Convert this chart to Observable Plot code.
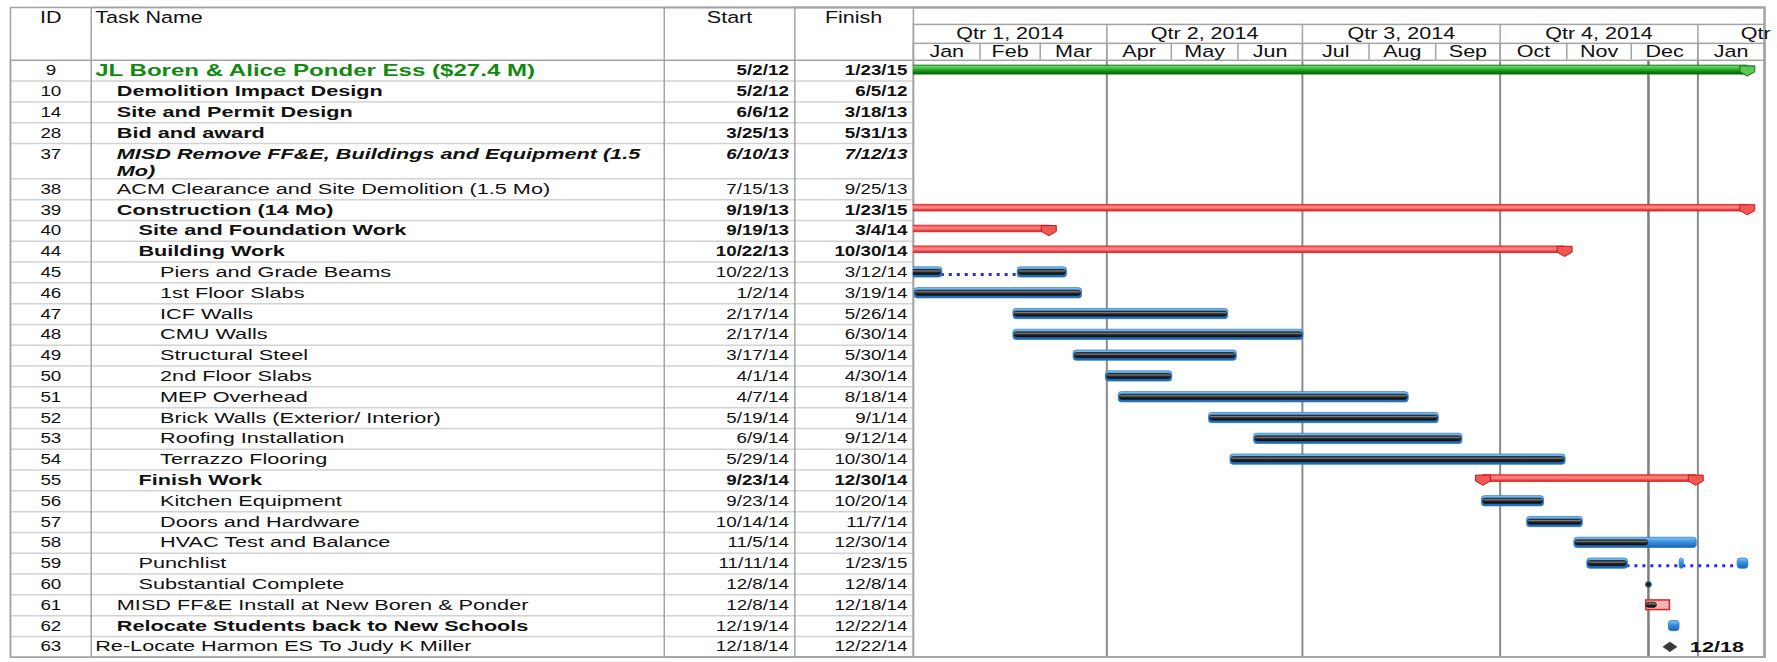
<!DOCTYPE html>
<html><head><meta charset="utf-8">
<script src="https://cdn.jsdelivr.net/npm/d3@7"></script>
<script src="https://cdn.jsdelivr.net/npm/@observablehq/plot@0.6"></script>
<style>
body{margin:0;background:#fff;}
#wrap{width:1771px;height:662px;overflow:hidden;}
</style></head><body><div id="wrap"></div>
<script>
// ---------- DATA ----------
const ids = [9,10,14,28,37,38,39,40,44,45,46,47,48,49,50,51,52,53,54,55,56,57,58,59,60,61,62,63];
const names = ["JL Boren & Alice Ponder Ess ($27.4 M)","Demolition Impact Design","Site and Permit Design","Bid and award","MISD Remove FF&E, Buildings and Equipment (1.5\nMo)","ACM Clearance and Site Demolition (1.5 Mo)","Construction (14 Mo)","Site and Foundation Work","Building Work","Piers and Grade Beams","1st Floor Slabs","ICF Walls","CMU Walls","Structural Steel","2nd Floor Slabs","MEP Overhead","Brick Walls (Exterior/ Interior)","Roofing Installation","Terrazzo Flooring","Finish Work","Kitchen Equipment","Doors and Hardware","HVAC Test and Balance","Punchlist","Substantial Complete","MISD FF&E Install at New Boren & Ponder","Relocate Students back to New Schools","Re-Locate Harmon ES To Judy K Miller"];
const starts = ["5/2/12","5/2/12","6/6/12","3/25/13","6/10/13","7/15/13","9/19/13","9/19/13","10/22/13","10/22/13","1/2/14","2/17/14","2/17/14","3/17/14","4/1/14","4/7/14","5/19/14","6/9/14","5/29/14","9/23/14","9/23/14","10/14/14","11/5/14","11/11/14","12/8/14","12/8/14","12/19/14","12/18/14"];
const finishes = ["1/23/15","6/5/12","3/18/13","5/31/13","7/12/13","9/25/13","1/23/15","3/4/14","10/30/14","3/12/14","3/19/14","5/26/14","6/30/14","5/30/14","4/30/14","8/18/14","9/1/14","9/12/14","10/30/14","12/30/14","10/20/14","11/7/14","12/30/14","1/23/15","12/8/14","12/18/14","12/22/14","12/22/14"];
const levels = [0,1,1,1,1,1,1,2,2,3,3,3,3,3,3,3,3,3,3,2,3,3,3,2,2,1,1,0];
const kinds = ["project","summary","summary","summary","manual","task","summary","summary","summary","task","task","task","task","task","task","task","task","task","task","summary","task","task","task","task","point","critical","task","milestone"];
const nameStyles = ["project","bold","bold","bold","boldItalic","regular","bold","bold","bold","regular","regular","regular","regular","regular","regular","regular","regular","regular","regular","bold","regular","regular","regular","regular","regular","regular","bold","regular"];
// split tasks (segments)
const splits = {45: [["10/22/13","1/13/14"],["2/19/14","3/12/14"]], 59: [["11/11/14","11/28/14"],["12/24/14","12/24/14"],["1/20/15","1/23/15"]]};
// progress through (null = no progress); tasks not listed are complete
const progressTo = {58: "12/8/14", 59: "11/28/14", 61: "12/12/14", 62: null};
const statusDate = "12/8/14";
const quarterLabels = ["Qtr 1, 2014","Qtr 2, 2014","Qtr 3, 2014","Qtr 4, 2014","Qtr 1, 2015"];
const quarterStarts = ["1/1/14","4/1/14","7/1/14","10/1/14","1/1/15"];
const monthLabels = ["Jan","Feb","Mar","Apr","May","Jun","Jul","Aug","Sep","Oct","Nov","Dec","Jan"];
const headers = ["ID","Task Name","Start","Finish"];

// ---------- LAYOUT ----------
const W = 1777, H = 662;
const M = {top: 60, bottom: 3, left: 916, right: 7};
const frameH = H - M.top - M.bottom;
const tableLeft = 10, colX = [91, 666, 797];
const idCenter = 50.5, nameX0 = 95, indent = 21.7, startRight = 791, finishRight = 910;
const hdrX = [50.5, 95, 731.5, 856];
const extraLine = 0.7, lineStep = 0.82;
const lineCol = "#a3a3a3", rowLineCol = "#d2d2d2";

const parse = d3.utcParse("%m/%d/%y");
const eod = d => d3.utcDay.offset(d, 1);
const fmtMD = d3.utcFormat("%-m/%-d");

const rows = ids.map((id, i) => ({id, name: names[i], start: parse(starts[i]), finish: parse(finishes[i]),
  startText: starts[i], finishText: finishes[i], level: levels[i], kind: kinds[i], style: nameStyles[i]}));
let u = 0;
for (const r of rows) {
  r.lines = r.name.split("\n");
  r.u0 = u; u += 1 + extraLine * (r.lines.length - 1); r.u1 = u; r.uc = r.u0 + 0.5;
}
const totalUnits = u;
const rowEdges = rows.slice(0, -1).map(r => r.u1);

const nameLines = rows.flatMap(r => r.lines.map((t, k) => ({text: t, y: r.uc + k * lineStep, level: r.level, style: r.style})));

const segs = [], prog = [], gaps = [];
for (const r of rows) {
  if (r.kind !== "task" && r.kind !== "critical") continue;
  const parts = (splits[r.id] || [[r.startText, r.finishText]]).map(([a, b]) => ({s: parse(a), e: eod(parse(b))}));
  parts.forEach((p, k) => {
    segs.push({...p, uc: r.uc, u0: r.u0, kind: r.kind});
    let pe = p.e;
    if (r.id in progressTo) pe = progressTo[r.id] ? eod(parse(progressTo[r.id])) : null;
    if (pe && pe > p.s) prog.push({s: p.s, e: pe < p.e ? pe : p.e, u0: r.u0});
    if (k > 0) gaps.push({s: parts[k - 1].e, e: p.s, uc: r.uc});
  });
}
const sums = rows.filter(r => r.kind === "summary").map(r => ({s: r.start, e: eod(r.finish), u0: r.u0}));
const caps = rows.filter(r => r.kind === "summary").flatMap(r => [{x: r.start, uc: r.uc}, {x: eod(r.finish), uc: r.uc}]);
const proj = rows.filter(r => r.kind === "project").map(r => ({s: r.start, e: eod(r.finish), u0: r.u0, uc: r.uc}));
const points = rows.filter(r => r.kind === "point").map(r => ({x: eod(r.start), uc: r.uc}));
const miles = rows.filter(r => r.kind === "milestone").map(r => ({x: eod(r.start), uc: r.uc, label: fmtMD(r.start)}));

const qStarts = quarterStarts.map(parse);
const quarters = quarterLabels.map((label, i) => ({label, s: qStarts[i], e: d3.utcMonth.offset(qStarts[i], 3)}));
const mStarts = d3.utcMonths(parse("1/1/14"), parse("2/1/15"));
const months = monthLabels.map((label, i) => ({label, s: mStarts[i], e: d3.utcMonth.offset(mStarts[i], 1)}));
const mid = d => new Date((+d.s + +d.e) / 2);
const status = eod(parse(statusDate));

// ---------- DEFS ----------
const defs = d3.create("svg:defs");
function grad(id, stops) {
  const g = defs.append("linearGradient").attr("id", id).attr("x1", 0).attr("y1", 0).attr("x2", 0).attr("y2", 1);
  stops.forEach(([o, c]) => g.append("stop").attr("offset", o).attr("stop-color", c));
}
grad("gBlue", [[0, "#8cc8f6"], [0.4, "#3d94e0"], [1, "#1a62ad"]]);
grad("gDark", [[0, "#161616"], [0.3, "#7a7a7a"], [0.55, "#2a2a2a"], [1, "#050505"]]);
grad("gRed", [[0, "#f24a4a"], [0.45, "#ff8c8c"], [1, "#d81c1c"]]);
grad("gGreen", [[0, "#86dc86"], [0.35, "#3cc23c"], [0.7, "#138c13"], [1, "#0a560a"]]);
const pat = defs.append("pattern").attr("id", "pRed").attr("width", 3).attr("height", 3).attr("patternUnits", "userSpaceOnUse");
pat.append("rect").attr("width", 3).attr("height", 3).attr("fill", "#fff");
pat.append("rect").attr("width", 1.5).attr("height", 1.5).attr("fill", "#f06a6a");
pat.append("rect").attr("x", 1.5).attr("y", 1.5).attr("width", 1.5).attr("height", 1.5).attr("fill", "#f06a6a");

const shield = {draw(ctx, size) { const s = Math.sqrt(size / Math.PI) / 7;
  ctx.moveTo(-7 * s, -5 * s); ctx.lineTo(7 * s, -5 * s); ctx.lineTo(7 * s, 0.5 * s); ctx.lineTo(0, 4.5 * s); ctx.lineTo(-7 * s, 0.5 * s); ctx.closePath(); }};
const flatDiamond = {draw(ctx, size) { const s = Math.sqrt(size / Math.PI) / 7;
  ctx.moveTo(-7 * s, 0); ctx.lineTo(0, -5 * s); ctx.lineTo(7 * s, 0); ctx.lineTo(0, 5 * s); ctx.closePath(); }};

// ---------- TEXT MARKS (each with a horizontal stretch factor) ----------
const texts = [];
const addText = (k, mark) => texts.push({k, mark});
headers.forEach((h, i) => addText(1.35, Plot.text([h], {text: d => d, frameAnchor: "top-left", lineAnchor: "middle", dx: hdrX[i] - M.left, dy: 17 - M.top,
  textAnchor: i === 1 ? "start" : "middle", fontSize: 16, fill: "#111"})));
addText(1.3, Plot.text(rows, {y: "uc", text: "id", frameAnchor: "left", dx: idCenter - M.left, textAnchor: "middle", fill: "#111"}));
for (const L of [0, 1, 2, 3]) for (const st of ["project", "bold", "boldItalic", "regular"]) {
  const data = nameLines.filter(d => d.level === L && d.style === st);
  if (!data.length) continue;
  addText(st === "project" ? 1.42 : 1.5, Plot.text(data, {y: "y", text: "text", frameAnchor: "left", textAnchor: "start", dx: nameX0 + L * indent - M.left,
    fontWeight: st === "regular" ? "normal" : "bold", fontStyle: st === "boldItalic" ? "italic" : "normal",
    fill: st === "project" ? "#128a12" : "#111", fontSize: st === "project" ? 17 : 14.5}));
}
const boldDates = r => ["project", "summary", "manual"].includes(r.kind);
for (const b of [true, false]) {
  for (const italic of [false, true]) {
    const data = rows.filter(r => boldDates(r) === b && (r.kind === "manual") === italic);
    if (!data.length) continue;
    const common = {y: "uc", frameAnchor: "left", textAnchor: "end", fontWeight: b ? "bold" : "normal", fontStyle: italic ? "italic" : "normal", fill: "#111"};
    addText(1.3, Plot.text(data, {...common, text: "startText", dx: startRight - M.left}));
    addText(1.3, Plot.text(data, {...common, text: "finishText", dx: finishRight - M.left}));
  }
}
addText(1.35, Plot.text(quarters, {x: mid, text: "label", frameAnchor: "top", lineAnchor: "middle", dy: -26.5, fontSize: 16, fill: "#111"}));
addText(1.35, Plot.text(months, {x: mid, text: "label", frameAnchor: "top", lineAnchor: "middle", dy: -8.5, fontSize: 16, fill: "#111"}));
addText(1.45, Plot.text(miles, {x: "x", y: "uc", text: "label", dx: 20, textAnchor: "start", fontWeight: "bold", fontSize: 15, fill: "#111"}));

// ---------- PLOT ----------
const chart = Plot.plot({
  width: W, height: H,
  marginTop: M.top, marginBottom: M.bottom, marginLeft: M.left, marginRight: M.right,
  x: {type: "utc", domain: [parse("1/1/14"), parse("2/1/15")], axis: null},
  y: {domain: [0, totalUnits], reverse: true, axis: null},
  style: {fontFamily: "'Liberation Sans', Arial, sans-serif", fontSize: "14.5px", background: "#fff", color: "#111"},
  marks: [
    () => defs.node(),
    // body grid
    Plot.ruleX(qStarts.slice(1), {x: d => d, stroke: "#8a8a8a", strokeWidth: 2}),
    Plot.ruleX([status], {x: d => d, stroke: "#7d7d7d", strokeWidth: 2.5}),
    // header grid
    Plot.ruleX(mStarts.slice(1, 13), {x: d => d, insetTop: -17, insetBottom: frameH, stroke: lineCol, strokeWidth: 1.5}),
    Plot.ruleX(qStarts.slice(1), {x: d => d, insetTop: -36, insetBottom: frameH, stroke: lineCol, strokeWidth: 1.5}),
    // table row lines
    Plot.ruleY(rowEdges, {y: d => d, insetLeft: -(M.left - tableLeft), insetRight: W - M.right - M.left, stroke: rowLineCol, strokeWidth: 1.5}),
    // frames / borders
    Plot.frame({insetTop: -36, stroke: lineCol, strokeWidth: 1.5}),
    Plot.frame({insetTop: -17, stroke: lineCol, strokeWidth: 1.5}),
    Plot.frame({insetLeft: -(M.left - tableLeft), stroke: lineCol, strokeWidth: 1.5}),
    ...colX.map(c => Plot.frame({insetTop: -53, insetLeft: -(M.left - c), stroke: lineCol, strokeWidth: 1.5})),
    Plot.frame({insetTop: -53, stroke: lineCol, strokeWidth: 1.5}),
    Plot.frame({insetTop: -53, insetLeft: -(M.left - tableLeft), stroke: lineCol, strokeWidth: 1.5}),
    // project bar
    Plot.rect(proj, {x1: "s", x2: "e", y1: "u0", y2: d => d.u0 + 1, insetTop: 5.4, insetBottom: 6.6, fill: "url(#gGreen)", stroke: "#0b7a0b", strokeWidth: 1, clip: true}),
    Plot.dot(proj, {x: "e", y: "uc", r: 7.5, symbol: shield, fill: "#5cc85c", stroke: "#0b6e0b", strokeWidth: 1, dy: 0.5, clip: true}),
    // summary bars
    Plot.rect(sums, {x1: "s", x2: "e", y1: "u0", y2: d => d.u0 + 1, insetTop: 5.2, insetBottom: 9, fill: "url(#gRed)", stroke: "#e01e1e", strokeWidth: 0.8, clip: true}),
    Plot.dot(caps, {x: "x", y: "uc", r: 7.5, symbol: shield, fill: "#f05858", stroke: "#c81818", strokeWidth: 1, clip: true}),
    // split gaps
    Plot.ruleY(gaps, {x1: "s", x2: "e", y: "uc", dy: 2, stroke: "#2a2ad8", strokeWidth: 3, strokeDasharray: "3,5", clip: true}),
    // task bars
    Plot.rect(segs.filter(d => d.kind === "task"), {x1: "s", x2: "e", y1: "u0", y2: d => d.u0 + 1, insetTop: 5.3, insetBottom: 5.3, insetLeft: -1, insetRight: -1, rx: 3, fill: "url(#gBlue)", stroke: "#2a7ccc", strokeWidth: 0.8, clip: true}),
    Plot.rect(segs.filter(d => d.kind === "critical"), {x1: "s", x2: "e", y1: "u0", y2: d => d.u0 + 1, insetTop: 5.6, insetBottom: 5.6, fill: "url(#pRed)", stroke: "#ee1c1c", strokeWidth: 1.5, clip: true}),
    Plot.rect(prog, {x1: "s", x2: "e", y1: "u0", y2: d => d.u0 + 1, insetTop: 7.8, insetBottom: 7.8, rx: 2.5, fill: "url(#gDark)", stroke: "#111", strokeWidth: 0.5, clip: true}),
    Plot.dot(points, {x: "x", y: "uc", r: 3, fill: "#222", stroke: "#2a7ccc", strokeWidth: 1, clip: true}),
    Plot.dot(miles, {x: "x", y: "uc", r: 7, symbol: flatDiamond, fill: "#3a3a3a", stroke: "#222", strokeWidth: 0.5, clip: true}),
    ...texts.map(t => t.mark)
  ]
});
document.getElementById("wrap").append(chart);

// horizontal stretch of the original's wide lettering (text groups appear in mark order)
const groups = chart.querySelectorAll('g[aria-label="text"]');
groups.forEach((g, i) => {
  const k = texts[i] ? texts[i].k : 1;
  g.querySelectorAll("text").forEach(t => {
    const w = t.getComputedTextLength();
    if (w > 0) {
      t.setAttribute("textLength", (w * k).toFixed(1));
      t.setAttribute("lengthAdjust", "spacingAndGlyphs");
    }
  });
});
</script></body></html>
